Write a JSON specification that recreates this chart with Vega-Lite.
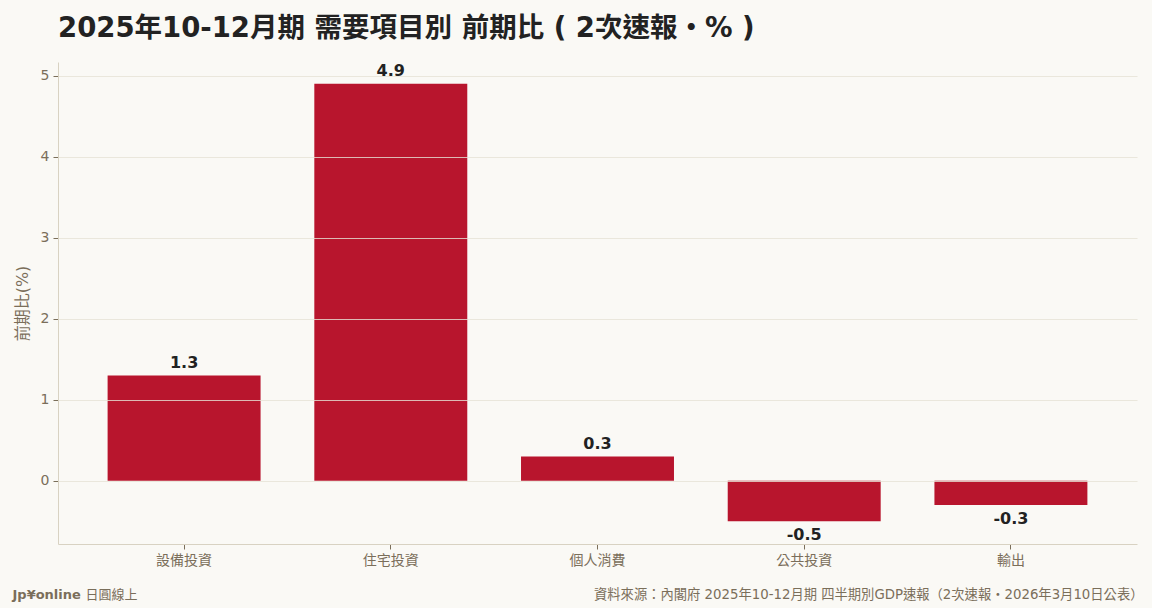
{
  "$schema": "https://vega.github.io/schema/vega-lite/v6.json",
  "autosize": {"type": "none"},
  "width": 1079,
  "height": 482,
  "padding": {"left": 58, "top": 62, "right": 15, "bottom": 64},
  "background": "#faf9f5",
  "title": {
    "text": "2025年10-12月期 需要項目別 前期比 ( 2次速報・% )",
    "anchor": "start",
    "frame": "group",
    "font": "DejaVu Sans, Noto Sans CJK TC, sans-serif",
    "fontSize": 27.5,
    "fontWeight": "bold",
    "color": "#222222",
    "offset": 20
  },
  "data": {
    "values": [
      {"item": "設備投資", "value": 1.3},
      {"item": "住宅投資", "value": 4.9},
      {"item": "個人消費", "value": 0.3},
      {"item": "公共投資", "value": -0.5},
      {"item": "輸出", "value": -0.3}
    ]
  },
  "encoding": {
    "x": {
      "field": "item",
      "type": "nominal",
      "sort": null,
      "scale": {"paddingInner": 0.26, "paddingOuter": 0.24}
    },
    "y": {
      "field": "value",
      "type": "quantitative",
      "scale": {"domain": [-0.78, 5.17], "nice": false, "zero": false}
    }
  },
  "layer": [
    {
      "mark": {"type": "bar", "color": "#b8152d"},
      "encoding": {
        "x": {
          "field": "item",
          "type": "nominal",
          "sort": null,
          "axis": {
            "orient": "bottom",
            "title": "資料來源：內閣府 2025年10-12月期 四半期別GDP速報（2次速報・2026年3月10日公表）",
            "titleX": 1085,
            "titleY": 50,
            "titleAlign": "right",
            "titleBaseline": "middle",
            "titleFontSize": 13.3,
            "titleFontWeight": "normal",
            "labelAngle": 0,
            "labelFontSize": 14,
            "labelPadding": 4,
            "tickSize": 5
          }
        },
        "y": {
          "field": "value",
          "type": "quantitative",
          "axis": {
            "title": "前期比(%)",
            "values": [0, 1, 2, 3, 4, 5],
            "format": "d",
            "titleFontSize": 16,
            "titleFontWeight": "normal",
            "titlePadding": 10,
            "labelFontSize": 14,
            "labelPadding": 4,
            "tickSize": 5,
            "grid": true,
            "zindex": 1
          }
        }
      }
    },
    {
      "transform": [{"filter": "datum.value >= 0"}],
      "mark": {"type": "text", "baseline": "bottom", "dy": -5, "fontSize": 16, "fontWeight": "bold", "color": "#222222"},
      "encoding": {
        "x": {
          "field": "item",
          "type": "nominal",
          "sort": null,
          "axis": {
            "orient": "bottom",
            "title": "Jp¥online",
            "titleX": -46,
            "titleY": 50,
            "titleAlign": "left",
            "titleBaseline": "middle",
            "titleFontSize": 13,
            "titleFontWeight": "bold",
            "labels": false,
            "ticks": false,
            "domain": false
          }
        },
        "text": {"field": "value", "type": "nominal"}
      }
    },
    {
      "transform": [{"filter": "datum.value < 0"}],
      "mark": {"type": "text", "baseline": "top", "dy": 6, "fontSize": 16, "fontWeight": "bold", "color": "#222222"},
      "encoding": {
        "x": {
          "field": "item",
          "type": "nominal",
          "sort": null,
          "axis": {
            "orient": "bottom",
            "title": "日圓線上",
            "titleX": 27,
            "titleY": 50,
            "titleAlign": "left",
            "titleBaseline": "middle",
            "titleFontSize": 13,
            "titleFontWeight": "normal",
            "labels": false,
            "ticks": false,
            "domain": false
          }
        },
        "text": {"field": "value", "type": "nominal"}
      }
    }
  ],
  "resolve": {"axis": {"x": "independent"}},
  "config": {
    "font": "DejaVu Sans, Noto Sans CJK TC, sans-serif",
    "view": {"stroke": null},
    "axis": {
      "labelColor": "#7a6e5a",
      "titleColor": "#7a6e5a",
      "labelFont": "DejaVu Sans, Noto Sans CJK TC, sans-serif",
      "titleFont": "DejaVu Sans, Noto Sans CJK TC, sans-serif",
      "domainColor": "#d8d2c2",
      "tickColor": "#7a6e5a",
      "gridColor": "#e6e2d6",
      "gridOpacity": 0.8,
      "grid": false
    }
  }
}
